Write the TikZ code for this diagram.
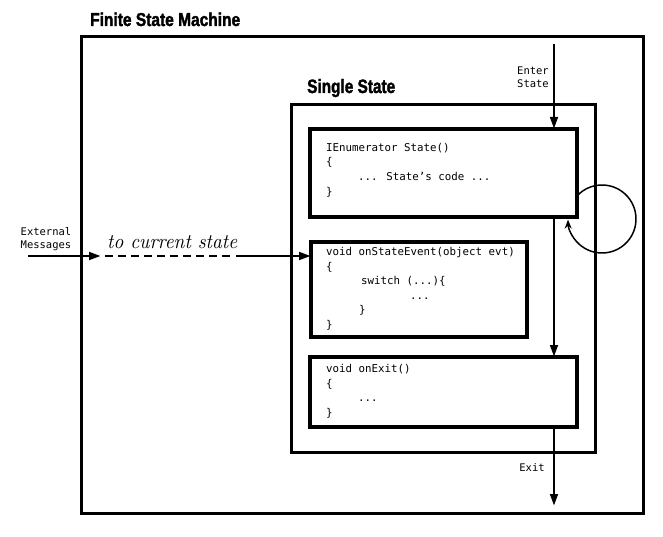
\documentclass[tikz,border=0pt]{standalone}
\usepackage{fontspec}
\usepackage{graphicx}
\newfontfamily\codefont{DejaVu Sans Mono}
\newfontfamily\titlefont[FakeBold=2]{Liberation Sans}
\usetikzlibrary{arrows.meta}
\begin{document}
\begin{tikzpicture}[x=1pt,y=-1pt,
  frame/.style={draw, line width=3pt, inner sep=0pt, outer sep=0pt, anchor=north west, fill=white},
  codebox/.style={draw, line width=3.5pt, inner sep=0pt, outer sep=0pt, anchor=north west, fill=white},
  code/.style={font=\codefont\fontsize{10.8}{14.6}\selectfont, align=left, anchor=north west, inner sep=0pt},
  lbl/.style={font=\codefont\fontsize{10.5}{13}\selectfont, inner sep=0pt},
  flow/.style={line width=2.8pt, -{Triangle[length=12pt,width=7.5pt]}},
  dashline/.style={line width=2pt, dash pattern=on 8pt off 5pt},
  loop/.style={line width=1.5pt, -{Stealth[length=9pt,width=7pt]}}]
\useasboundingbox (0,0) rectangle (663,537);

% outer frame
\node[frame, minimum width=562pt, minimum height=476pt] (fsm) at (81,37) {};
\node[anchor=base west, inner sep=0pt] (fsmtitle) at (90,26)
  {\resizebox{150pt}{13.5pt}{\titlefont\bfseries Finite State Machine}};

% single state frame
\node[frame, minimum width=304pt, minimum height=347pt] (ss) at (291,105) {};
\node[anchor=base west, inner sep=0pt] (sstitle) at (307,93)
  {\resizebox{88pt}{14pt}{\titlefont\bfseries Single State}};

% code boxes
\node[codebox, minimum width=267pt, minimum height=88pt] (b1) at (310,129) {};
\node[codebox, minimum width=216pt, minimum height=95pt] (b2) at (311,242) {};
\node[codebox, minimum width=267pt, minimum height=70pt] (b3) at (310,357) {};

\node[code] (t1) at (326,143) {IEnumerator State()\\\{\\\hspace*{32pt}... State’s code ...\\\}};
\node[code] (t2) at (326,247) {void onStateEvent(object evt)\\\{\\\hspace*{35pt}switch (...)\{\\\hspace*{84pt}...\\\hspace*{33pt}\}\\\}};
\node[code] (t3) at (326,364) {void onExit()\\\{\\\hspace*{32pt}...\\\}};

% vertical flow
\coordinate (enter) at (554,44);
\coordinate (exitend) at (554,506);
\draw[flow] (enter) -- (enter |- b1.north);
\draw[flow] (b1.south -| enter) -- (b3.north -| enter);
\draw[flow] (b3.south -| enter) -- (exitend);
\node[lbl, align=right, anchor=east] (enterlbl) at (549,77) {Enter\\State};
\node[lbl] (exitlbl) at (532,468) {Exit};

% self loop
\coordinate (loopc) at (602,219);
\draw[loop] (loopc) ++(-137:34) arc[start angle=-137, end angle=179, radius=34];

% external messages
\node[lbl, align=center] (extlbl) at (46,239) {External\\Messages};
\coordinate (extstart) at (28,256);
\coordinate (arrowA) at (101,256);
\coordinate (dashA) at (105,256);
\coordinate (dashB) at (231,256);
\coordinate (solidB) at (236,256);
\draw[flow] (extstart) -- (arrowA);
\draw[dashline] (dashA) -- (dashB);
\draw[flow] (solidB) -- (b2.west |- extstart);
\node[anchor=base west, inner sep=0pt] (tocur) at (107,248)
  {\resizebox{130pt}{13pt}{\itshape to current state}};
\end{tikzpicture}
\end{document}
